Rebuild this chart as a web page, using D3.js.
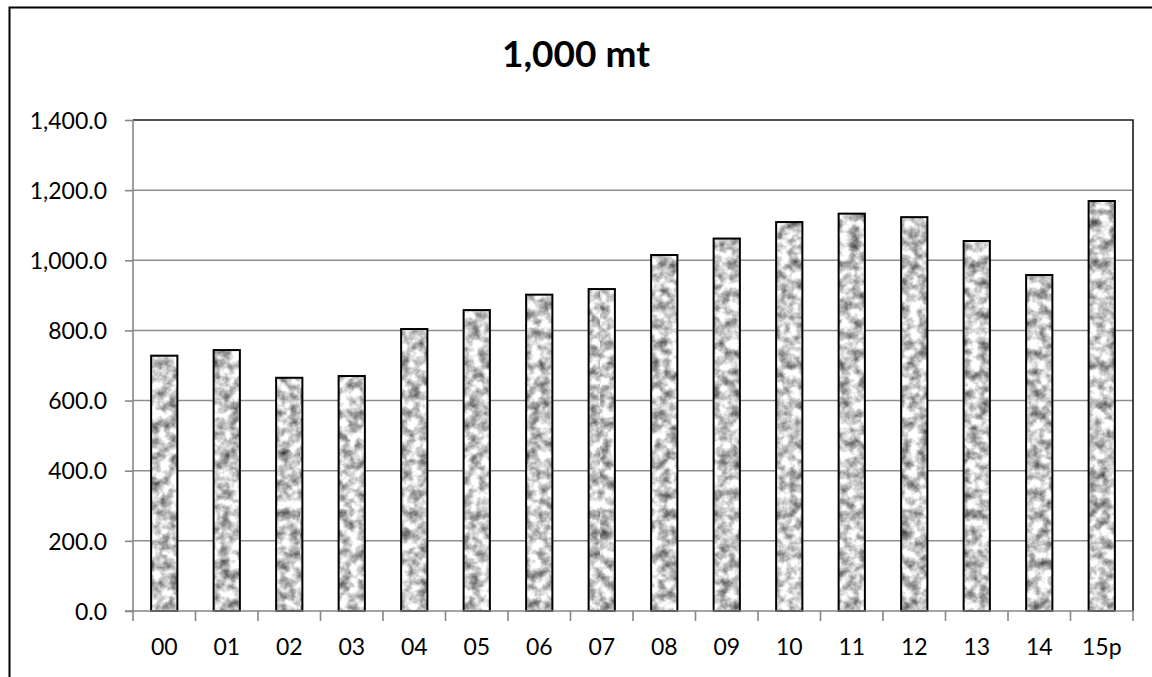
<!DOCTYPE html>
<html>
<head>
<meta charset="utf-8">
<script src="https://cdn.jsdelivr.net/npm/d3@7"></script>
<style>
  html, body { margin: 0; padding: 0; background: #fff; }
  svg { display: block; }
  text { font-family: Lato, "Open Sans", sans-serif; fill: #000; }
</style>
</head>
<body>
<svg id="chart" width="1152" height="677"></svg>
<script>
// Annual volume, thousand metric tons
const years = ["00","01","02","03","04","05","06","07","08","09","10","11","12","13","14","15p"];
const volumes = [728, 744, 665, 670, 804, 858, 902, 918, 1015, 1062, 1109, 1133, 1123, 1055, 958, 1169];
const yTicks = [0, 200, 400, 600, 800, 1000, 1200, 1400];
const title = "1,000 mt";

const W = 1152, H = 677;
const plot = { left: 133, right: 1133, top: 120, bottom: 611 };

const svg = d3.select("#chart");
const defs = svg.append("defs");

// mottled granite fill for the bars
const f = defs.append("filter").attr("id", "granite")
  .attr("x", 0).attr("y", 0).attr("width", 300).attr("height", 700)
  .attr("filterUnits", "userSpaceOnUse")
  .attr("color-interpolation-filters", "sRGB");
f.append("feTurbulence").attr("type", "fractalNoise")
  .attr("baseFrequency", 0.1).attr("numOctaves", 3).attr("seed", 11).attr("result", "n");
f.append("feColorMatrix").attr("type", "matrix")
  .attr("values", "1.2 0 0 0 0.19  1.2 0 0 0 0.19  1.2 0 0 0 0.19  0 0 0 0 1");
const pat = defs.append("pattern").attr("id", "granitePat")
  .attr("patternUnits", "userSpaceOnUse").attr("width", 300).attr("height", 700);
pat.append("rect").attr("width", 300).attr("height", 700).attr("filter", "url(#granite)");

// soft shadow for the outer frame
defs.append("filter").attr("id", "shadow")
  .append("feGaussianBlur").attr("stdDeviation", 1.6);

// outer frame
svg.append("path").attr("d", `M6,${H} L6,9`)
  .attr("stroke", "#999").attr("stroke-width", 4).attr("fill", "none")
  .attr("filter", "url(#shadow)");
svg.append("path").attr("d", `M9.5,${H} L9.5,7.5 L${W},7.5`)
  .attr("stroke", "#000").attr("stroke-width", 2).attr("fill", "none");

const x = d3.scaleBand().domain(years).range([plot.left, plot.right]).paddingInner(0.58).paddingOuter(0.29);
const xb = d3.scaleBand().domain(years).range([plot.left, plot.right]);
const y = d3.scaleLinear().domain([0, 1400]).range([plot.bottom, plot.top]);

// gridlines
svg.append("g").selectAll("line").data(yTicks.filter(t => t > 0 && t < 1400)).join("line")
  .attr("x1", plot.left).attr("x2", plot.right)
  .attr("y1", d => y(d)).attr("y2", d => y(d))
  .attr("stroke", "#8e8e8e").attr("stroke-width", 1.5);

// plot area top and right edges
svg.append("path")
  .attr("d", `M${plot.left},${plot.top} L${plot.right},${plot.top} L${plot.right},${plot.bottom}`)
  .attr("stroke", "#1a1a1a").attr("stroke-width", 1.6).attr("fill", "none");

// bars
svg.append("g").selectAll("rect").data(volumes).join("rect")
  .attr("x", (d, i) => x(years[i]))
  .attr("width", x.bandwidth())
  .attr("y", d => y(d))
  .attr("height", d => y(0) - y(d))
  .attr("fill", "url(#granitePat)")
  .attr("stroke", "#000").attr("stroke-width", 2);

// y axis
const yAxis = svg.append("g").attr("transform", `translate(${plot.left},0)`)
  .call(d3.axisLeft(y).tickValues(yTicks).tickSize(8).tickPadding(18)
    .tickFormat(d => d3.format(",.1f")(d)));
yAxis.select(".domain").attr("stroke", "#868686").attr("stroke-width", 1.6)
  .attr("d", `M0,${plot.top}V${plot.bottom + 10}`);
yAxis.selectAll(".tick line").attr("stroke", "#868686").attr("stroke-width", 1.6);
yAxis.selectAll(".tick text").style("font-size", "23px").attr("dy", "0.36em");

// x axis: ticks between categories
const xAxis = svg.append("g").attr("transform", `translate(0,${plot.bottom})`);
xAxis.append("line").attr("x1", plot.left - 8).attr("x2", plot.right)
  .attr("y1", 0).attr("y2", 0).attr("stroke", "#868686").attr("stroke-width", 1.6);
xAxis.selectAll("line.tk").data(years.slice(1).concat(["end"])).join("line").attr("class", "tk")
  .attr("x1", (d, i) => plot.left + xb.step() * (i + 1))
  .attr("x2", (d, i) => plot.left + xb.step() * (i + 1))
  .attr("y1", 0).attr("y2", 10).attr("stroke", "#868686").attr("stroke-width", 1.6);
xAxis.selectAll("text").data(years).join("text")
  .attr("x", d => xb(d) + xb.bandwidth() / 2)
  .attr("y", 44)
  .attr("text-anchor", "middle")
  .style("font-size", "23px")
  .text(d => d);

// title
svg.append("text").attr("x", 576).attr("y", 67).attr("text-anchor", "middle")
  .style("font-size", "37px").style("font-weight", "bold").text(title);
</script>
</body>
</html>
